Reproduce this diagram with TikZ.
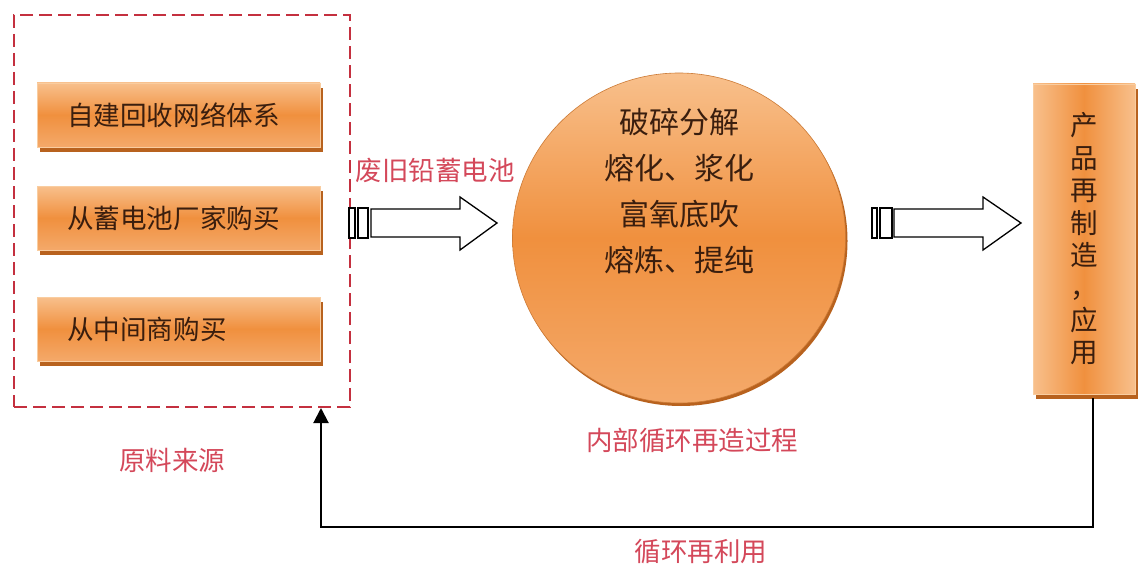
\documentclass[tikz,border=0pt]{standalone}
\usepackage{fontspec}
\newfontfamily\cjk{Noto Sans CJK SC}
\usetikzlibrary{shapes.geometric,shadows,arrows.meta,calc}
\definecolor{dashred}{HTML}{C4303F}
\definecolor{labred}{HTML}{D4485A}
\definecolor{txtbrown}{HTML}{3A1E0E}
\definecolor{olight}{HTML}{F8C08C}
\definecolor{omid}{HTML}{F0903E}
\definecolor{obot}{HTML}{F4A96A}
\definecolor{oshadow}{HTML}{B8621E}
\definecolor{oborder}{HTML}{F9CDA0}
\begin{document}
\begin{tikzpicture}[x=1pt,y=-1pt,
  srcbox/.style={rectangle, top color=olight, bottom color=obot, middle color=omid,
    draw=oborder, line width=0.8pt, minimum width=283pt, minimum height=64pt,
    inner xsep=30pt, text width=223pt, align=left, text=txtbrown,
    font=\cjk\fontsize{26.6}{30}\selectfont,
    drop shadow={shadow xshift=3pt, shadow yshift=-5pt, fill=oshadow, opacity=1}},
  procell/.style={ellipse, top color=olight, bottom color=obot, middle color=omid,
    draw=omid!85!black, line width=0.6pt, minimum width=333pt, minimum height=330pt,
    drop shadow={shadow xshift=2pt, shadow yshift=-3pt, fill=oshadow, opacity=1}},
  proctext/.style={align=center, text=txtbrown, font=\cjk\fontsize{30}{46}\selectfont, inner sep=0pt},
  prodbox/.style={rectangle, left color=olight, right color=olight, middle color=omid,
    draw=oborder, line width=0.8pt, minimum width=102pt, minimum height=310pt,
    align=center, text=txtbrown, font=\cjk\fontsize{27.5}{32.4}\selectfont,
    drop shadow={shadow xshift=3pt, shadow yshift=-5pt, fill=oshadow, opacity=1}},
  redlab/.style={text=labred, font=\cjk\fontsize{26.5}{30}\selectfont, inner sep=0pt},
  blockarrow/.style={draw=black, fill=white, line width=1.3pt, line join=miter},
  loopline/.style={draw=black, line width=2pt, -{Triangle[length=15pt,width=15pt]}}
]
\useasboundingbox (0,0) rectangle (1138,567);
\fill[white] (0,0) rectangle (1138,567);

% dashed source frame
\node[draw=dashred, line width=2.8pt, dash pattern=on 13pt off 6pt,
  minimum width=336pt, minimum height=392pt, inner sep=0pt] (src) at (182,211) {};

% source boxes
\node[srcbox] (b1) at (178.5,115) {自建回收网络体系};
\node[srcbox] (b2) at (178.5,218) {从蓄电池厂家购买};
\node[srcbox] (b3) at (178.5,329) {从中间商购买};

% process ellipse
\node[procell] (proc) at (679,238) {};
\node[proctext] (proct) at (679,191) {破碎分解\\熔化、浆化\\富氧底吹\\熔炼、提纯};

% product box
\node[prodbox] (prod) at (1084,239) {产\\品\\再\\制\\造\\，\\应\\用};

% labels
\node[redlab] (l1) at (435,170) {废旧铅蓄电池};
\node[redlab] (l2) at (172,460) {原料来源};
\node[redlab] (l3) at (692,440) {内部循环再造过程};
\node[redlab] (l4) at (701,552) {循环再利用};

% block arrow 1
\draw[blockarrow] (349,208) rectangle (355,238);
\draw[blockarrow] (358,208) rectangle (368,238);
\draw[blockarrow] (371,209) -- (460,209) -- (460,197) -- (497,223) -- (460,250) -- (460,237) -- (371,237) -- cycle;

% block arrow 2
\draw[blockarrow] (872,208) rectangle (877,238);
\draw[blockarrow] (880,208) rectangle (892,238);
\draw[blockarrow] (894,209) -- (983,209) -- (983,197) -- (1021,223) -- (983,250) -- (983,237) -- (894,237) -- cycle;

% recycling loop
\coordinate (rb) at (1093,398);
\coordinate (lt) at (321,408);
\draw[loopline] (rb) -- (1093,527) -| (lt);
\end{tikzpicture}
\end{document}
